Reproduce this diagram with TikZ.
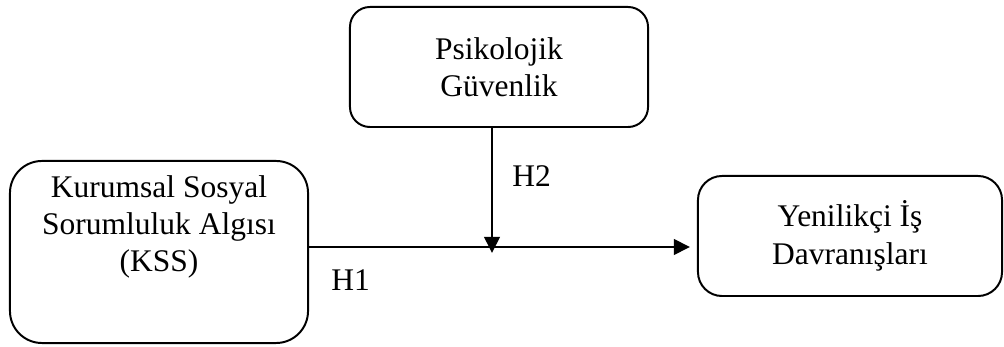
\documentclass[tikz,border=0pt]{standalone}
\usepackage{fontspec}
\setmainfont{Liberation Serif}
\usepackage{tikz}
\usetikzlibrary{positioning, arrows.meta}

\begin{document}
\begin{tikzpicture}[
x=0.025cm, y=0.025cm,
mybox/.style={rectangle,
  draw=black,
  line width=1.4pt,
  align=center,
  font=\fontsize{22.4}{26.6}\selectfont,
},
mytext/.style={
  align=center,
  inner sep=0pt,
  font=\fontsize{22.4}{26.6}\selectfont,
},
>={Triangle[length=11.5pt,width=11pt]}
]
\useasboundingbox (0,0) rectangle (1004,347);

\node[mybox, rounded corners=0.8cm, minimum width=7.45cm, minimum height=4.55cm] (kss) at (159,95)
    {};
\node[mytext] (ksstext) at (159,120)
    {Kurumsal Sosyal\\Sorumluluk Algısı\\(KSS)};
\node[mybox, rounded corners=0.5cm, minimum width=7.45cm, minimum height=3cm] (pg) at (499,280)
    {Psikolojik\\Güvenlik};
\node[mybox, rounded corners=0.6cm, minimum width=7.6cm, minimum height=3cm] (yid) at (850,111)
    {Yenilikçi İş\\Davranışları};

\coordinate (hit) at (492,94);
\coordinate (tip) at (690,100);

\draw[->,line width=2pt,black] (kss.east |- tip) -- (tip);
\draw[->,line width=2pt,black] (pg.south -| hit) -- (hit);

\node[mytext, anchor=base west] (h1) at (331,56)
    {H1};
\node[mytext, anchor=base west] (h2) at (512,160)
    {H2};
\end{tikzpicture}
\end{document}
